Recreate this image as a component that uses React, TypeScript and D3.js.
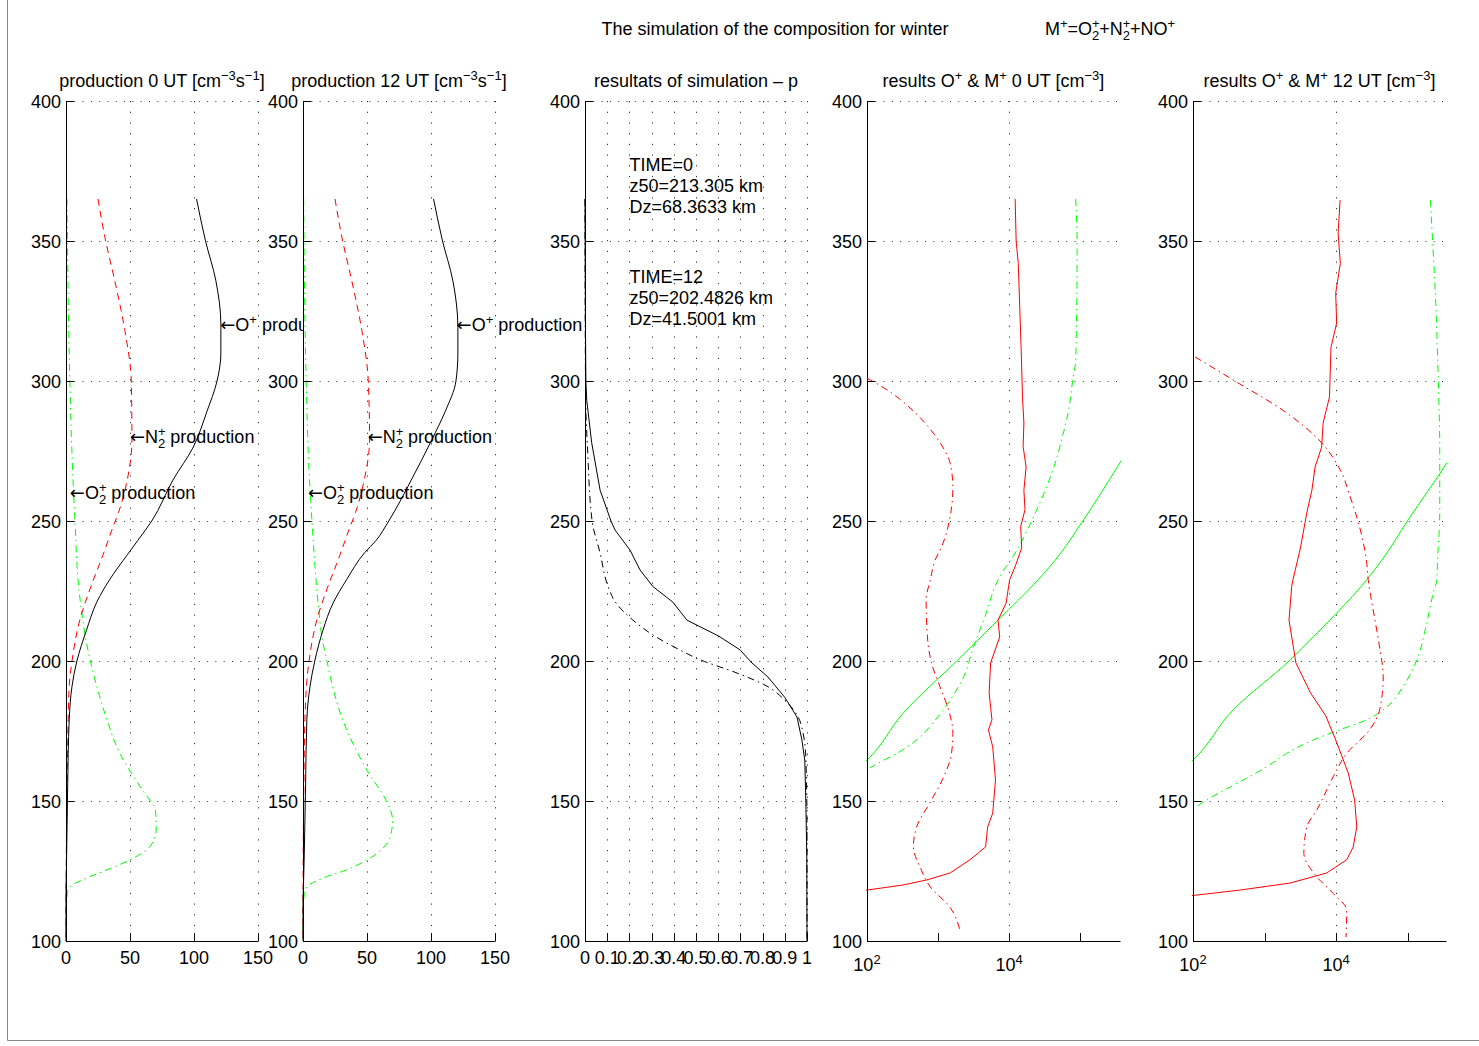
import React from "react";
import * as d3 from "d3";

// ---------------- data ----------------
const ALT_TICKS = [100, 150, 200, 250, 300, 350, 400];
const PROD_TICKS = [0, 50, 100, 150];
const P_TICKS = [0, 0.1, 0.2, 0.3, 0.4, 0.5, 0.6, 0.7, 0.8, 0.9, 1];
const P_TICK_LABELS = ["0", "0.1", "0.2", "0.3", "0.4", "0.5", "0.6", "0.7", "0.8", "0.9", "1"];
const LOG_TICKS = [1e2, 1e3, 1e4, 1e5];
const LOG_LABELS: Record<number, string> = { 100: "2", 10000: "4" };

// production 0 UT : [altitude km, rate cm^-3 s^-1]
const prod0Oplus: [number, number][] = [
  [365, 102], [350, 109], [336, 117], [320, 121], [310, 121], [300, 118], [289, 110], [276, 99],
  [265, 84], [250, 67], [243, 56], [238, 48], [229, 34], [221, 24], [211, 16], [200, 8.5],
  [191, 4.7], [179, 2.5], [155, 1.3], [131, 0.5], [120, 0.1], [116, 0], [100, 0],
];
const prod0N2plus: [number, number][] = [
  [365, 25], [350, 31], [336, 38], [318, 46], [300, 51], [279, 51.5], [265, 48], [253, 41],
  [247, 36], [238, 29], [226, 19], [215, 11], [200, 4.7], [191, 2.5], [167, 1.2], [140, 0.4],
  [120, 0.1], [110, 0], [100, 0],
];
const prod0O2plus: [number, number][] = [
  [365, 0.8], [300, 3], [270, 5], [250, 7], [226, 10], [215, 13], [209, 15], [200, 19],
  [191, 24], [179, 32], [167, 42], [155, 58], [146, 70], [140, 70.5], [134, 66], [129, 50],
  [125.4, 32], [122.5, 16], [119.3, 3], [117, 1], [110, 0.2], [100, 0],
];
// production 12 UT
const prod12Oplus: [number, number][] = [
  [365, 102], [350, 109], [336, 117], [319, 121], [310, 121], [300, 119.5], [289, 111], [279, 100.6],
  [265, 85], [250, 67], [243, 57], [238.6, 48], [229, 34], [220.7, 23.5], [211, 15.6], [200.4, 9.4],
  [191, 5.5], [179, 3], [155, 2], [131, 1], [119, 0.3], [112, 0], [100, 0],
];
const prod12N2plus: [number, number][] = [
  [365, 25], [350, 31], [336, 38], [318, 46], [300, 51], [279, 52], [265, 48], [253, 41],
  [247, 36], [238, 29], [226, 19], [215, 11], [200, 4.7], [179, 1.5], [160, 0.8], [140, 0.3],
  [120, 0.1], [110, 0], [100, 0],
];
const prod12O2plus: [number, number][] = [
  [365, 0.5], [300, 2.5], [270, 4.5], [250, 7], [217, 12.6], [209, 14.6], [200.4, 18.5], [191, 23],
  [179, 31], [161, 50], [149.6, 65.5], [143.2, 70], [137, 68], [131.4, 58], [129, 50], [125.4, 34],
  [122.5, 15.6], [119.3, 3], [117, 1], [110, 0.2], [100, 0],
];
// label anchors [altitude, value]
const prod0LabelAt: [number, number][] = [[320, 120.5], [280, 50], [260, 3]];
const prod12LabelAt: [number, number][] = [[320, 120], [280, 50.5], [260, 3.9]];
const PROD_IONS = ["O+", "N2+", "O2+"];

// simulation p : [altitude, p]
const pTime0: [number, number][] = [
  [365, 0], [320, 0.002], [300, 0.004], [293, 0.008], [278, 0.03], [261, 0.068], [250, 0.117],
  [246.8, 0.135], [239.6, 0.203], [232.5, 0.248], [226.6, 0.306], [221, 0.396], [214.6, 0.459],
  [209, 0.6], [204, 0.698], [199.3, 0.752], [194.3, 0.824], [187, 0.9], [180, 0.955], [171.8, 0.977],
  [164.6, 0.99], [149, 0.995], [130, 0.999], [100, 1],
];
const pTime12: [number, number][] = [
  [365, 0], [320, 0.001], [293, 0.003], [275, 0.012], [250, 0.032], [238.6, 0.068], [226.6, 0.104],
  [220.7, 0.14], [214.6, 0.216], [208.6, 0.32], [204, 0.426], [200.4, 0.52], [195.7, 0.685],
  [191, 0.82], [186, 0.9], [180, 0.96], [174.3, 0.982], [165, 0.995], [140, 1], [100, 1],
];
const notes0 = ["TIME=0", "z50=213.305 km", "Dz=68.3633 km"];
const notes12 = ["TIME=12", "z50=202.4826 km", "Dz=41.5001 km"];
const NOTE_AT: [number, number][] = [[377, 0.2], [337, 0.2]];

// results 0 UT : [altitude, density cm^-3]
const res0RedSolid: [number, number][] = [
  [365, 12200], [350, 12600], [342, 13500], [312, 14800], [294, 15500], [285, 16200], [276.6, 15800],
  [269.3, 17400], [261, 16200], [254, 16800], [248, 14600], [240.4, 15100], [234, 12300], [229, 10200],
  [220.7, 9100], [214.6, 7000], [208.6, 7400], [199.3, 5500], [188.6, 5250], [179, 5750], [175.4, 5130],
  [169.3, 5900], [157.5, 6450], [145.7, 5900], [140.7, 5000], [133.6, 4680], [129, 2820], [124.3, 1480],
  [121.8, 690], [120, 320], [118.2, 100], [116, 40],
];
const res0RedDashDot: [number, number][] = [
  [301, 100], [298, 162], [288.6, 480], [279, 1000], [270.7, 1480], [262, 1620], [252.8, 1510],
  [240.7, 1120], [236, 910], [229, 780], [222, 680], [208.6, 710], [199.3, 810], [190.7, 1070],
  [182.5, 1410], [174.3, 1620], [167, 1550], [158.6, 1200], [150.4, 810], [140.7, 500], [133.6, 450],
  [126.4, 560], [119.3, 780], [112, 1480], [103.9, 2040],
];
const res0GreenSolid: [number, number][] = [
  [158, 50], [164.6, 100], [181.4, 324], [200.4, 1900], [214.6, 7000], [229, 25700], [236, 44700],
  [250.4, 112000], [270.7, 363000], [285, 800000],
];
const res0GreenDashDot: [number, number][] = [
  [365, 87000], [348, 91000], [307.5, 87000], [300.4, 79000], [288.6, 68000], [279, 55000],
  [270.7, 44700], [261, 32400], [252.8, 23400], [244.3, 16200], [237, 11200], [231.4, 7900],
  [214.6, 4400], [205, 3160], [194.3, 2290], [186, 1480], [177.9, 850], [171.8, 500], [167, 263],
  [163.6, 145], [161.8, 110],
];
// results 12 UT
const res12RedSolid: [number, number][] = [
  [364.6, 11400], [352.8, 10700], [342, 11500], [331.4, 9900], [320.7, 10200], [312, 8500],
  [294.3, 8100], [285, 6600], [276.4, 6300], [269.3, 5100], [261, 4600], [252.9, 3900], [240.7, 3200],
  [236, 2900], [229, 2500], [226.6, 2400], [214.6, 2200], [199.3, 2750], [188.6, 4400], [180.4, 7200],
  [171, 10200], [160, 14800], [150.4, 18200], [140.7, 19500], [133.6, 17400], [129, 14100],
  [124.3, 7400], [120.7, 2290], [118.2, 457], [116.4, 112], [115, 32],
];
const res12RedDashDot: [number, number][] = [
  [308.6, 107], [300.4, 363], [288.6, 2040], [277.9, 6300], [268.2, 11500], [258.6, 15800],
  [246.8, 21900], [235, 26900], [229, 28200], [218.2, 33100], [206.4, 39800], [194.3, 45700],
  [182.5, 40700], [175.4, 29500], [167, 14100], [158.6, 9100], [146.8, 5400], [140.7, 3900],
  [131.4, 3550], [122.9, 5400], [117, 9100], [111, 14100], [101.4, 13800],
];
const res12GreenSolid: [number, number][] = [
  [158, 50], [164.6, 100], [182.5, 363], [200.4, 2290], [208.6, 4800], [217.1, 10200], [229, 26900],
  [236, 43700], [250.4, 102000], [270.7, 355000], [285, 800000],
];
const res12GreenDashDot: [number, number][] = [
  [364.6, 209000], [350, 224000], [336, 240000], [300.4, 269000], [276.4, 282000], [252.8, 282000],
  [236, 263000], [229, 257000], [224.3, 229000], [212.5, 182000], [200.4, 135000], [191, 87000],
  [183.6, 51300], [179, 26900], [175.4, 11200], [171.8, 4800], [167, 2040], [162.2, 1070],
  [155, 331], [150.4, 155], [148, 112],
];

// ---------------- layout / style ----------------
const FONT = "'Liberation Sans', Arial, Helvetica, 'DejaVu Sans', sans-serif";
const FS = 18;
const SM = 13;
const Y_TOP = 101;
const Y_BOT = 941;
const TICK = 8;
const RED = "#ff0000";
const GREEN = "#00ff00";
const DASH = "7 5";
const DASHDOT = "7 4 1.5 4";
const GRID_H = "1 7.3";
const GRID_V = "1.2 9.5";

const yScale = d3.scaleLinear().domain([100, 400]).range([Y_BOT, Y_TOP]);

type Seg = string | { sup: string } | { sub: string } | { subsup: [string, string] } | { arrow: true };

function rich(segs: Seg[], fs = FS) {
  const small = SM;
  const out: React.ReactNode[] = [];
  let shift = 0;
  segs.forEach((s, i) => {
    if (typeof s === "string") {
      out.push(<tspan key={i} dy={-shift} fontSize={fs}>{s}</tspan>);
      shift = 0;
    } else if ("arrow" in s) {
      out.push(<tspan key={i} dy={-shift} fontSize={fs} fontFamily="'DejaVu Sans', sans-serif">←</tspan>);
      shift = 0;
    } else if ("sup" in s) {
      out.push(<tspan key={i} dy={-7 - shift} fontSize={small}>{s.sup}</tspan>);
      shift = -7;
    } else if ("sub" in s) {
      out.push(<tspan key={i} dy={5 - shift} fontSize={small}>{s.sub}</tspan>);
      shift = 5;
    } else {
      const [sb, sp] = s.subsup;
      const w = sp.length * small * 0.584;
      out.push(<tspan key={i + "a"} dy={-7 - shift} fontSize={small}>{sp}</tspan>);
      out.push(<tspan key={i + "b"} dx={-w} dy={12} fontSize={small}>{sb}</tspan>);
      shift = 5;
    }
  });
  return out;
}

function ionSegs(ion: string): Seg[] {
  if (ion === "O+") return [{ arrow: true }, "O", { sup: "+" }, " production"];
  if (ion === "N2+") return [{ arrow: true }, "N", { subsup: ["2", "+"] }, " production"];
  return [{ arrow: true }, "O", { subsup: ["2", "+"] }, " production"];
}

type Series = { data: [number, number][]; color: string; dash?: string; smooth?: boolean };

interface PanelSpec {
  id: string;
  x: any;
  ticks: number[];
  tickLabel: (v: number, i: number) => React.ReactNode | null;
  gridX: number[];
  series: Series[];
  title: Seg[];
  extra?: (x: any) => React.ReactNode;
}

const px = (v: number) => Math.round(v) + 0.5;

function Panel({ spec }: { spec: PanelSpec }) {
  const [x0, x1] = spec.x.range();
  const mk = (smooth?: boolean) =>
    d3
      .line<[number, number]>()
      .x((d) => spec.x(d[1]))
      .y((d) => yScale(d[0]))
      .curve(smooth ? d3.curveMonotoneY : d3.curveLinear);
  const cx = (x0 + x1) / 2;
  return (
    <g>
      <rect x={x0} y={Y_TOP} width={x1 - x0} height={Y_BOT - Y_TOP} fill="#fff" />
      <clipPath id={`clip-${spec.id}`}>
        <rect x={x0 - 1} y={Y_TOP - 1} width={x1 - x0 + 2} height={Y_BOT - Y_TOP + 2} />
      </clipPath>
      {ALT_TICKS.filter((t) => t > 100).map((t) => (
        <line key={"gh" + t} x1={x0} x2={x1} y1={px(yScale(t))} y2={px(yScale(t))}
          stroke="#333" strokeDasharray={GRID_H} />
      ))}
      {spec.gridX.map((v) => (
        <line key={"gv" + v} x1={px(spec.x(v))} x2={px(spec.x(v))} y1={Y_TOP} y2={Y_BOT}
          stroke="#333" strokeDasharray={GRID_V} />
      ))}
      <g clipPath={`url(#clip-${spec.id})`}>
        {spec.series.map((s, i) => (
          <path key={i} d={mk(s.smooth)(s.data) || ""} fill="none" stroke={s.color} strokeWidth={1}
            strokeDasharray={s.dash} />
        ))}
      </g>
      <line x1={px(x0)} x2={px(x0)} y1={Y_TOP} y2={Y_BOT + 0.5} stroke="#000" />
      <line x1={x0} x2={x1 + 0.5} y1={px(Y_BOT)} y2={px(Y_BOT)} stroke="#000" />
      {ALT_TICKS.map((t) => (
        <g key={"yt" + t}>
          <line x1={x0} x2={x0 + TICK} y1={px(yScale(t))} y2={px(yScale(t))} stroke="#000" />
          <text x={x0 - 5} y={yScale(t) + 6.5} textAnchor="end" fontSize={FS}>{t}</text>
        </g>
      ))}
      {spec.ticks.map((v, i) => (
        <g key={"xt" + i}>
          <line x1={px(spec.x(v))} x2={px(spec.x(v))} y1={Y_BOT} y2={Y_BOT - TICK} stroke="#000" />
          {spec.tickLabel(v, i)}
        </g>
      ))}
      <text x={cx} y={87} textAnchor="middle" fontSize={FS}>{rich(spec.title)}</text>
      {spec.extra && spec.extra(spec.x)}
    </g>
  );
}

function linTickLabel(x: any, labels?: string[]) {
  return (v: number, i: number) => (
    <text x={x(v)} y={964} textAnchor="middle" fontSize={FS}>{labels ? labels[i] : String(v)}</text>
  );
}

function logTickLabel(x: any) {
  return (v: number) =>
    LOG_LABELS[v] ? (
      <text x={x(v)} y={971} textAnchor="middle" fontSize={FS}>{rich(["10", { sup: LOG_LABELS[v] }])}</text>
    ) : null;
}

function prodLabels(anchors: [number, number][]) {
  return (x: any) =>
    anchors.map((a, i) => (
      <text key={"pl" + i} x={x(a[1])} y={yScale(a[0]) + 6} fontSize={FS}>{rich(ionSegs(PROD_IONS[i]))}</text>
    ));
}

export default function App() {
  const x1 = d3.scaleLinear().domain([0, 150]).range([66, 258]);
  const x2 = d3.scaleLinear().domain([0, 150]).range([303, 495]);
  const x3 = d3.scaleLinear().domain([0, 1]).range([585, 807]);
  const x4 = d3.scaleLog().domain([1e2, Math.pow(10, 5.563)]).range([867, 1120]);
  const x5 = d3.scaleLog().domain([1e2, Math.pow(10, 5.538)]).range([1193, 1446]);

  const panels: PanelSpec[] = [
    {
      id: "p1", x: x1, ticks: PROD_TICKS, tickLabel: linTickLabel(x1), gridX: PROD_TICKS.slice(1),
      series: [
        { data: prod0O2plus, color: GREEN, dash: DASHDOT, smooth: true },
        { data: prod0N2plus, color: RED, dash: DASH, smooth: true },
        { data: prod0Oplus, color: "#000", smooth: true },
      ],
      title: ["production 0 UT [cm", { sup: "−3" }, "s", { sup: "−1" }, "]"],
      extra: prodLabels(prod0LabelAt),
    },
    {
      id: "p2", x: x2, ticks: PROD_TICKS, tickLabel: linTickLabel(x2), gridX: PROD_TICKS.slice(1),
      series: [
        { data: prod12O2plus, color: GREEN, dash: DASHDOT, smooth: true },
        { data: prod12N2plus, color: RED, dash: DASH, smooth: true },
        { data: prod12Oplus, color: "#000", smooth: true },
      ],
      title: ["production 12 UT [cm", { sup: "−3" }, "s", { sup: "−1" }, "]"],
      extra: prodLabels(prod12LabelAt),
    },
    {
      id: "p3", x: x3, ticks: P_TICKS, tickLabel: linTickLabel(x3, P_TICK_LABELS), gridX: P_TICKS.slice(1),
      series: [
        { data: pTime12, color: "#000", dash: DASHDOT, smooth: true },
        { data: pTime0, color: "#000" },
      ],
      title: ["resultats of simulation – p"],
      extra: (x: any) =>
        [notes0, notes12].map((lines, k) =>
          lines.map((t, j) => (
            <text key={"n" + k + j} x={x(NOTE_AT[k][1])} y={yScale(NOTE_AT[k][0]) + 6 + j * 21} fontSize={FS}>{t}</text>
          ))
        ),
    },
    {
      id: "p4", x: x4, ticks: LOG_TICKS, tickLabel: logTickLabel(x4), gridX: [1e4],
      series: [
        { data: res0GreenSolid, color: GREEN, smooth: true },
        { data: res0GreenDashDot, color: GREEN, dash: DASHDOT, smooth: true },
        { data: res0RedDashDot, color: RED, dash: DASHDOT, smooth: true },
        { data: res0RedSolid, color: RED },
      ],
      title: ["results O", { sup: "+" }, " & M", { sup: "+" }, " 0 UT [cm", { sup: "−3" }, "]"],
    },
    {
      id: "p5", x: x5, ticks: LOG_TICKS, tickLabel: logTickLabel(x5), gridX: [1e4],
      series: [
        { data: res12GreenSolid, color: GREEN, smooth: true },
        { data: res12GreenDashDot, color: GREEN, dash: DASHDOT, smooth: true },
        { data: res12RedDashDot, color: RED, dash: DASHDOT, smooth: true },
        { data: res12RedSolid, color: RED },
      ],
      title: ["results O", { sup: "+" }, " & M", { sup: "+" }, " 12 UT [cm", { sup: "−3" }, "]"],
    },
  ];

  return (
    <svg width={1479} height={1046} style={{ position: "absolute", left: 0, top: 0, background: "#fff" }}
      fontFamily={FONT} fill="#000">
      <rect x={0} y={0} width={1479} height={1046} fill="#fff" />
      <line x1={7.5} x2={7.5} y1={0} y2={1040.5} stroke="#888" />
      <line x1={7.5} x2={1479} y1={1040.5} y2={1040.5} stroke="#888" />
      <text x={775} y={35} textAnchor="middle" fontSize={FS}>The simulation of the composition for winter</text>
      <text x={1045} y={35} fontSize={FS}>
        {rich(["M", { sup: "+" }, "=O", { subsup: ["2", "+"] }, "+N", { subsup: ["2", "+"] }, "+NO", { sup: "+" }])}
      </text>
      {panels.map((p) => (
        <Panel key={p.id} spec={p} />
      ))}
    </svg>
  );
}
